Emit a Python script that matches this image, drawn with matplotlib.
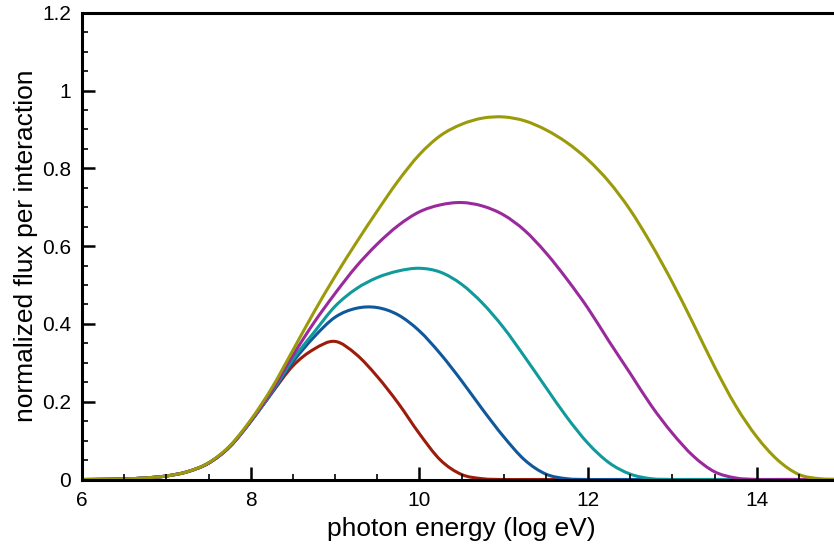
import matplotlib
matplotlib.use("Agg")
import matplotlib.pyplot as plt
import numpy as np
from matplotlib.ticker import MultipleLocator
from matplotlib.path import Path
from matplotlib.patches import PathPatch

plt.rcParams['font.family'] = ['Liberation Sans', 'DejaVu Sans']

energy = [6.0, 6.25, 6.5, 6.75, 7.0, 7.25, 7.5, 7.75, 8.0, 8.25,
          8.5, 8.75, 9.0, 9.25, 9.5, 9.75, 10.0, 10.25, 10.5, 10.75,
          11.0, 11.25, 11.5, 11.75, 12.0, 12.25, 12.5, 12.75, 13.0, 13.25,
          13.5, 13.75, 14.0, 14.25, 14.5, 14.75, 15.0]

flux_red = [0.0, 0.0005, 0.0015, 0.004, 0.009, 0.02, 0.042, 0.084, 0.149, 0.222,
            0.292, 0.335, 0.355, 0.322, 0.265, 0.196, 0.118, 0.05, 0.013, 0.002,
            0.0, 0.0, 0.0, 0.0, 0.0, 0.0, 0.0, 0.0, 0.0, 0.0,
            0.0, 0.0, 0.0, 0.0, 0.0, 0.0, 0.0]
flux_blue = [0.0, 0.0005, 0.0015, 0.004, 0.009, 0.02, 0.042, 0.084, 0.149, 0.223,
             0.302, 0.366, 0.417, 0.44, 0.442, 0.423, 0.382, 0.323, 0.254, 0.18,
             0.11, 0.05, 0.014, 0.002, 0.0, 0.0, 0.0, 0.0, 0.0, 0.0,
             0.0, 0.0, 0.0, 0.0, 0.0, 0.0, 0.0]
flux_teal = [0.0, 0.0005, 0.0015, 0.004, 0.009, 0.02, 0.042, 0.084, 0.149, 0.225,
             0.309, 0.378, 0.445, 0.49, 0.519, 0.536, 0.543, 0.533, 0.502, 0.453,
             0.39, 0.315, 0.237, 0.16, 0.093, 0.043, 0.014, 0.002, 0.0, 0.0,
             0.0, 0.0, 0.0, 0.0, 0.0, 0.0, 0.0]
flux_purple = [0.0, 0.0005, 0.0015, 0.004, 0.009, 0.02, 0.042, 0.084, 0.15, 0.228,
               0.319, 0.403, 0.478, 0.547, 0.605, 0.653, 0.688, 0.706, 0.712, 0.703,
               0.68, 0.64, 0.583, 0.515, 0.44, 0.355, 0.273, 0.19, 0.119, 0.06,
               0.02, 0.004, 0.0, 0.0, 0.0, 0.0, 0.0]
flux_olive = [0.0, 0.0005, 0.0015, 0.004, 0.009, 0.02, 0.043, 0.086, 0.153, 0.235,
              0.332, 0.43, 0.522, 0.608, 0.69, 0.768, 0.835, 0.884, 0.913, 0.929,
              0.932, 0.922, 0.899, 0.866, 0.822, 0.765, 0.693, 0.605, 0.507, 0.40,
              0.29, 0.19, 0.11, 0.05, 0.013, 0.002, 0.0]

series = [
    (flux_red, '#9c1c0c'),
    (flux_blue, '#10589c'),
    (flux_teal, '#109a9c'),
    (flux_purple, '#9a2a9c'),
    (flux_olive, '#9a9a0a'),
]


def smooth_path(x, y):
    """Cubic Bezier (Catmull-Rom) path through the data points."""
    x = np.asarray(x, float)
    y = np.asarray(y, float)
    h = np.diff(x)
    m = np.zeros_like(y)
    m[1:-1] = (y[2:] - y[:-2]) / (x[2:] - x[:-2])
    m[0] = (y[1] - y[0]) / h[0]
    m[-1] = (y[-1] - y[-2]) / h[-1]
    verts = [(x[0], y[0])]
    codes = [Path.MOVETO]
    for i in range(len(x) - 1):
        verts += [(x[i] + h[i] / 3, y[i] + m[i] * h[i] / 3),
                  (x[i + 1] - h[i] / 3, y[i + 1] - m[i + 1] * h[i] / 3),
                  (x[i + 1], y[i + 1])]
        codes += [Path.CURVE4] * 3
    return Path(verts, codes)


fig = plt.figure(figsize=(8.34, 5.54), dpi=100)
ax = fig.add_axes([82 / 834, 74.5 / 554, (841 - 82) / 834, (541.3 - 74.5) / 554])

for vals, col in series:
    ax.add_patch(PathPatch(smooth_path(energy, vals), facecolor='none',
                           edgecolor=col, lw=2.2, capstyle='round',
                           joinstyle='round'))

ax.set_xlim(6, 15)
ax.set_ylim(0, 1.2)
ax.xaxis.set_minor_locator(MultipleLocator(0.5))
ax.yaxis.set_minor_locator(MultipleLocator(0.05))

ax.set_xticks([6, 8, 10, 12, 14])
ax.set_xticklabels(['6', '8', '10', '12', '14'])
ax.set_yticks([0, 0.2, 0.4, 0.6, 0.8, 1.0, 1.2])
ax.set_yticklabels(['0', '0.2', '0.4', '0.6', '0.8', '1', '1.2'])

ax.spines['right'].set_visible(False)
for s in ['left', 'bottom', 'top']:
    ax.spines[s].set_linewidth(2.2)

ax.tick_params(which='major', direction='in', length=9.5, width=1.8,
               labelsize=15, pad=8, top=False, right=False)
ax.tick_params(which='minor', direction='in', length=4.5, width=1.2,
               top=False, right=False)

ax.set_xlabel('photon energy (log eV)', fontsize=19, labelpad=5)
ax.set_ylabel('normalized flux per interaction', fontsize=19, labelpad=3)

fig.savefig('out.png', dpi=100)
